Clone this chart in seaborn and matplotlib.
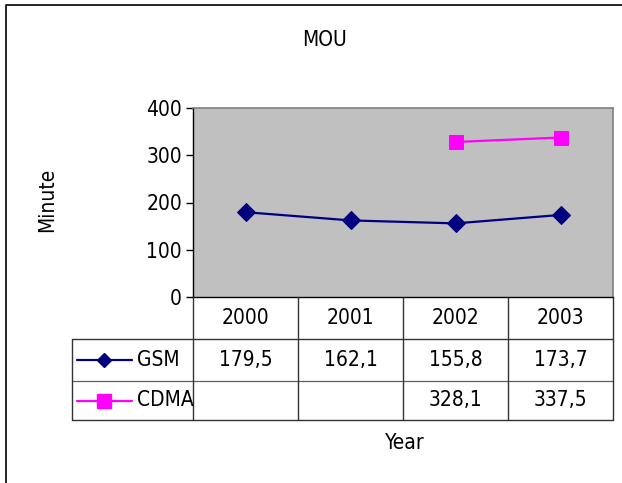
import matplotlib
matplotlib.use("Agg")
import matplotlib.pyplot as plt
import matplotlib.transforms as mtransforms
from matplotlib.lines import Line2D
import numpy as np
import pandas as pd
import seaborn as sns

# Minutes of use per subscriber
years = ["2000", "2001", "2002", "2003"]
gsm = [179.5, 162.1, 155.8, 173.7]
cdma = [np.nan, np.nan, 328.1, 337.5]
y_ticks = [0, 100, 200, 300, 400]

series_names = ["GSM", "CDMA"]
series_colors = ["#000080", "#FF00FF"]
series_markers = ["D", "s"]
series_msize = [9, 10]
key_msize = [7, 9.5]

sns.set_theme(style="white")
plt.rcParams["font.family"] = ["DejaVu Sans"]
plt.rcParams["font.stretch"] = "condensed"
plt.rcParams["text.color"] = "black"

FS = 15
W, H = 622, 483
fig = plt.figure(figsize=(W / 100, H / 100), dpi=100)


def fx(px):
    return px / W


def fy(py):
    return 1 - py / H


def label(x, y, s, transform=None, **kw):
    kw.setdefault("ha", "center")
    kw.setdefault("va", "center")
    fig.text(x, y, s, transform=transform or fig.transFigure, fontsize=FS,
             fontstretch="condensed", color="black", **kw)


# plot area in pixel coordinates
L, R, T, B = 193, 613, 108, 297
ax = fig.add_axes([fx(L), fy(B), (R - L) / W, (B - T) / H])
ax.set_facecolor("#C0C0C0")

pos = np.arange(len(years))
df = pd.DataFrame({"pos": pos, "GSM": gsm, "CDMA": cdma})

for name, col, mk, ms in zip(series_names, series_colors, series_markers, series_msize):
    d = df[["pos", name]].dropna()
    sns.lineplot(data=d, x="pos", y=name, ax=ax, color=col, marker=mk,
                 markersize=ms, markeredgecolor=col, linewidth=1.6,
                 legend=False, zorder=3)

ax.set_xlim(-0.5, len(years) - 0.5)
ax.set_ylim(y_ticks[0], y_ticks[-1])
ax.set_yticks(y_ticks)
ax.set_yticklabels([str(v) for v in y_ticks], fontsize=FS,
                   fontstretch="condensed")
ax.set_xticks([])
ax.set_xlabel("")
ax.set_ylabel("")
ax.tick_params(axis="y", direction="out", length=5, width=1, color="black",
               left=True, pad=3, labelcolor="black")
for s in ["top", "right"]:
    ax.spines[s].set_color("#808080")
    ax.spines[s].set_linewidth(1.2)
ax.spines["left"].set_color("black")
ax.spines["bottom"].set_color("black")
ax.spines["left"].set_linewidth(1)
ax.spines["bottom"].set_linewidth(1)

# data table under the plot
tr = mtransforms.blended_transform_factory(ax.transData, fig.transFigure)
row_top, row1, row2, row_bot = B, 339, 381, 420
leg_left = 72
lc = "#333333"


def hline(y, x0, x1, color=lc, lw=1.0):
    fig.add_artist(Line2D([fx(x0), fx(x1)], [fy(y), fy(y)], color=color,
                          lw=lw, transform=fig.transFigure))


def vline_data(xd, y0, y1):
    fig.add_artist(Line2D([xd, xd], [fy(y0), fy(y1)], color=lc, lw=1.0,
                          transform=tr))


hline(row1, leg_left, R)
hline(row2, leg_left, R, color="#606060", lw=0.9)
hline(row_bot, leg_left, R)
fig.add_artist(Line2D([fx(leg_left)] * 2, [fy(row1), fy(row_bot)], color=lc,
                      lw=1.0, transform=fig.transFigure))
for i in range(len(years) + 1):
    vline_data(i - 0.5, row_top, row_bot)

for i, yr in enumerate(years):
    label(i, fy((row_top + row1) / 2), yr, transform=tr)


def fmt(v):
    return "" if np.isnan(v) else f"{v:.1f}".replace(".", ",")


rows_y = [(row1 + row2) / 2, (row2 + row_bot) / 2]
for name, col, mk, ms, ry in zip(series_names, series_colors, series_markers,
                                  key_msize, rows_y):
    for i, v in enumerate(df[name]):
        label(i, fy(ry), fmt(v), transform=tr)
    fig.add_artist(Line2D([fx(77), fx(132)], [fy(ry), fy(ry)], color=col,
                          lw=1.6, transform=fig.transFigure))
    fig.add_artist(Line2D([fx(104)], [fy(ry)], color=col, marker=mk,
                          markersize=ms, markeredgecolor=col, lw=0,
                          transform=fig.transFigure))
    label(fx(137), fy(ry), name, ha="left")

# titles
label(fx(325), fy(40), "MOU")
label(fx(405), fy(443), "Year")
label(fx(47), fy(200), "Minute", rotation=90)

# chart frame
fig.add_artist(Line2D([fx(6), fx(6), fx(W)], [0, fy(5), fy(5)], color="black",
                      lw=1.2, transform=fig.transFigure))

fig.savefig("out.png", dpi=100, facecolor="white")
